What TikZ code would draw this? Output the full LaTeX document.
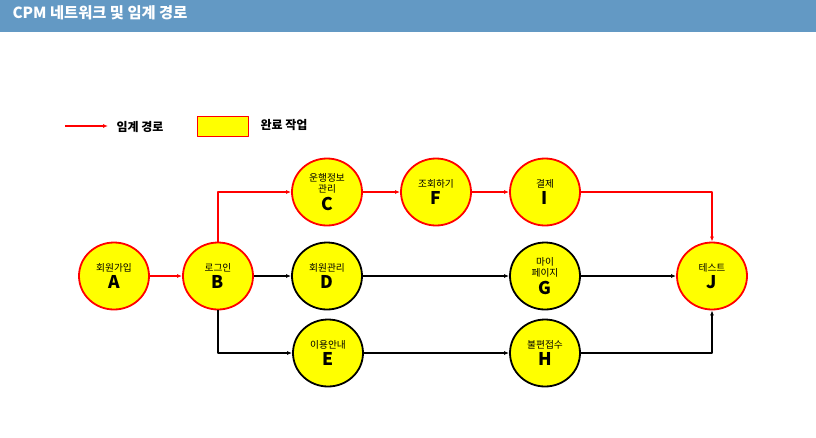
\documentclass[tikz,border=0pt]{standalone}
\usepackage{fontspec}
\setmainfont{Noto Sans CJK KR}
\usetikzlibrary{arrows.meta,shapes.geometric}
\definecolor{titleblue}{HTML}{6399C4}
\definecolor{critred}{HTML}{FF0000}
\definecolor{doneyellow}{HTML}{FFFF00}

\begin{document}
\begin{tikzpicture}[
  x=1pt,
  y=-1pt,
  line join=round,
  task/.style={ellipse,fill=doneyellow,line width=1.8pt,minimum width=70pt,minimum height=67pt,inner sep=0pt,align=center,font=\fontsize{9.7}{11}\selectfont},
  crittask/.style={task,draw=critred},
  normtask/.style={task,draw=black},
  critpath/.style={draw=critred,line width=1.4pt,-{Latex[length=5pt,width=4pt]}},
  normpath/.style={draw=black,line width=1.4pt,-{Latex[length=5pt,width=4pt]}},
  legendtext/.style={anchor=west,font=\fontsize{12}{14}\selectfont\bfseries}
]
  \newcommand{\tasklabel}[2]{#1\\[2.5pt]{\fontsize{17.5}{18}\selectfont\bfseries #2}}

  \path[use as bounding box] (0,0) rectangle (816,437);

  % Title bar
  \fill[titleblue] (0,0) rectangle (816,32);
  \node[anchor=west,text=white,font=\fontsize{15.3}{17}\selectfont\bfseries] (title) at (9,13) {CPM 네트워크 및 임계 경로};

  % Legend
  \coordinate (legstart) at (65,126);
  \coordinate (legend) at (108,126);
  \draw[critpath] (legstart) -- (legend);
  \node[legendtext] (legcrit) at (113,127) {임계 경로};
  \node[draw=critred,fill=doneyellow,line width=1pt,minimum width=51pt,minimum height=20pt] (legbox) at (222.5,126) {};
  \node[legendtext] (legdone) at (257,125) {완료 작업};

  % Tasks
  \node[crittask] (A) at (114,276) {\tasklabel{회원가입}{A}};
  \node[crittask] (B) at (218,276) {\tasklabel{로그인}{B}};
  \node[crittask] (C) at (327,192) {운행정보\\\tasklabel{관리}{C}};
  \node[crittask] (F) at (436,192) {\tasklabel{조회하기}{F}};
  \node[crittask] (I) at (545,192) {\tasklabel{결제}{I}};
  \node[normtask] (D) at (327,276) {\tasklabel{회원관리}{D}};
  \node[normtask] (G) at (545,276) {마이\\\tasklabel{페이지}{G}};
  \node[normtask] (E) at (328,353) {\tasklabel{이용안내}{E}};
  \node[normtask] (H) at (545,353) {\tasklabel{불편접수}{H}};
  \node[crittask] (J) at (712,276) {\tasklabel{테스트}{J}};

  % Critical path
  \draw[critpath] (A) -- (B);
  \draw[critpath] (B.north) |- (C.west);
  \draw[critpath] (C) -- (F);
  \draw[critpath] (F) -- (I);
  \draw[critpath] (I.east) -| (J.north);

  % Other dependencies
  \draw[normpath] (B) -- (D);
  \draw[normpath] (B.south) |- (E.west);
  \draw[normpath] (D) -- (G);
  \draw[normpath] (E) -- (H);
  \draw[normpath] (G) -- (J);
  \draw[normpath] (H.east) -| (J.south);
\end{tikzpicture}
\end{document}
